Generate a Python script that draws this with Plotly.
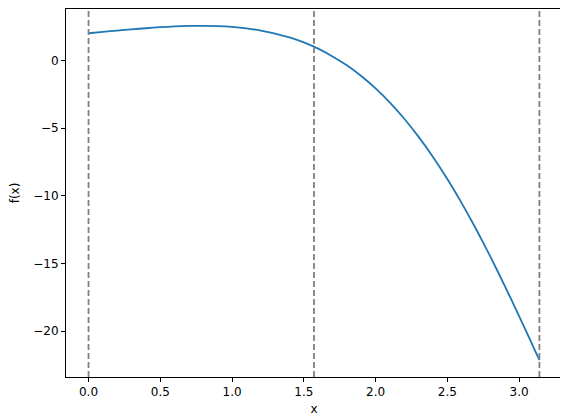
import plotly.graph_objects as go

# values
x = [0.0, 0.1, 0.2, 0.3, 0.4, 0.5, 0.6, 0.7, 0.8, 0.9, 1.0, 1.1, 1.2, 1.3, 1.4, 1.5,
     1.6, 1.7, 1.8, 1.9, 2.0, 2.1, 2.2, 2.3, 2.4, 2.5, 2.6, 2.7, 2.8, 2.9, 3.0, 3.1, 3.1416]
y = [2.00, 2.10, 2.20, 2.29, 2.37, 2.45, 2.50, 2.54, 2.55, 2.53, 2.47, 2.36, 2.20, 1.98, 1.69, 1.32,
     0.86, 0.29, -0.37, -1.16, -2.07, -3.12, -4.31, -5.65, -7.13, -8.76, -10.54, -12.45, -14.49,
     -16.65, -18.88, -21.18, -22.14]
vlines = [0.0, 1.5708, 3.1416]

fig = go.Figure()

fig.add_trace(go.Scatter(
    x=x, y=y,
    mode='lines',
    line=dict(color='#1f77b4', width=1.8, shape='spline', smoothing=0.6),
    showlegend=False))

for v in vlines:
    fig.add_vline(x=v, line=dict(color='gray', width=1.8, dash='6px,3px'))

axis_style = dict(
    showline=True, linecolor='black', linewidth=1, mirror=True,
    ticks='outside', ticklen=4, tickcolor='black',
    showgrid=False, zeroline=False,
    tickfont=dict(family='DejaVu Sans', size=12, color='black'))

fig.update_xaxes(range=[-0.157, 3.299], dtick=0.5, tickformat='.1f',
                 title=dict(text='x', standoff=6,
                            font=dict(family='DejaVu Sans', size=12, color='black')),
                 **axis_style)
fig.update_yaxes(range=[-23.38, 3.79], dtick=5,
                 title=dict(text='f(x)', standoff=13,
                            font=dict(family='DejaVu Sans', size=12, color='black')),
                 **axis_style)

# page body adds an 8px offset, so the figure is a bit smaller than the window
fig.update_layout(
    width=560, height=412,
    margin=dict(l=58, r=6, t=1, b=43),
    plot_bgcolor='white', paper_bgcolor='white')

fig.write_html("out.html")
